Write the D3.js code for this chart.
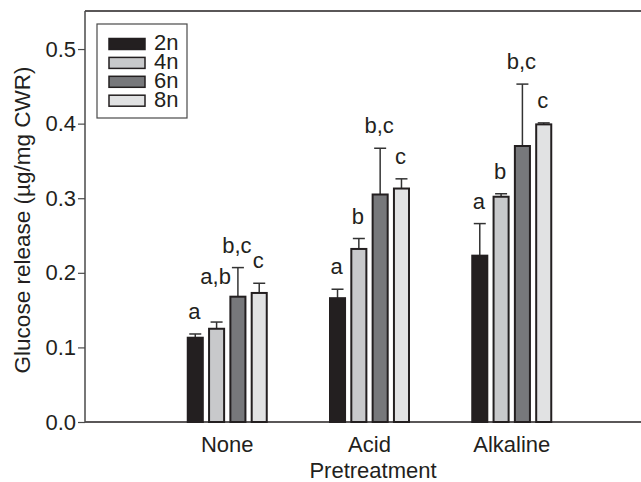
<!DOCTYPE html>
<html>
<head>
<meta charset="utf-8">
<script src="https://cdn.jsdelivr.net/npm/d3@7"></script>
<style>
  body { margin: 0; background: #fff; }
  svg text { font-family: "Liberation Sans", Arial, sans-serif; fill: #231f20; }
</style>
</head>
<body>
<div id="chart"></div>
<script>
// data
var treatments = ["None", "Acid", "Alkaline"];
var ploidy = ["2n", "4n", "6n", "8n"];
var means = {
    "2n": [0.113, 0.166, 0.223],
    "4n": [0.125, 0.232, 0.302],
    "6n": [0.168, 0.305, 0.370],
    "8n": [0.173, 0.313, 0.399]
};
var errors = {
    "2n": [0.005, 0.012, 0.043],
    "4n": [0.009, 0.014, 0.004],
    "6n": [0.039, 0.062, 0.083],
    "8n": [0.013, 0.013, 0.002]
};
var letters = {
    "2n": ["a", "a", "a"],
    "4n": ["a,b", "b", "b"],
    "6n": ["b,c", "b,c", "b,c"],
    "8n": ["c", "c", "c"]
};
var fills = {"2n": "#231f20", "4n": "#c8c9cb", "6n": "#77787b", "8n": "#e1e2e3"};
var yTicks = [0.0, 0.1, 0.2, 0.3, 0.4, 0.5];

var W = 641, H = 482,
    plotLeft = 85, plotTop = 11, plotBottom = 422;

var svg = d3.select("#chart").append("svg")
    .attr("width", W).attr("height", H);

var y = d3.scaleLinear().domain([0, 0.551]).range([plotBottom, plotTop]);
// group centres sit at 1,2,3 on a 0..4 axis that runs past the right edge
var x = d3.scaleLinear().domain([0, 4]).range([plotLeft, 654]);
var xi = d3.scaleBand().domain(ploidy).range([-40.5, 40.5]).paddingInner(0.2);

// frame (top and bottom lines, no right side visible)
svg.append("line").attr("x1", plotLeft).attr("x2", W + 5).attr("y1", plotTop).attr("y2", plotTop)
    .attr("stroke", "#231f20").attr("stroke-width", 1.5);
svg.append("line").attr("x1", plotLeft).attr("x2", W + 5).attr("y1", plotBottom).attr("y2", plotBottom)
    .attr("stroke", "#231f20").attr("stroke-width", 1.5);

// y axis
var yAxis = svg.append("g")
    .attr("transform", "translate(" + plotLeft + ",0)")
    .call(d3.axisLeft(y).tickValues(yTicks).tickFormat(d3.format(".1f")).tickSize(7).tickPadding(2));
yAxis.select(".domain").attr("stroke", "#4a4a4a").attr("stroke-width", 1.5)
    .attr("d", "M0," + plotTop + "V" + plotBottom);
yAxis.selectAll(".tick line").attr("stroke", "#4a4a4a").attr("stroke-width", 1.2);
yAxis.selectAll(".tick text").attr("font-size", 22).attr("fill", "#231f20")
    .style("font-family", "'Liberation Sans', Arial, sans-serif");

// category labels
svg.selectAll(".cat").data(treatments).enter().append("text")
    .attr("class", "cat")
    .attr("x", function(d, i) { return x(i + 1); })
    .attr("y", 452)
    .attr("text-anchor", "middle")
    .attr("font-size", 22)
    .text(function(d) { return d; });

svg.append("text")
    .attr("x", 373).attr("y", 478)
    .attr("text-anchor", "middle").attr("font-size", 22)
    .text("Pretreatment");

svg.append("text")
    .attr("transform", "translate(30,220) rotate(-90)")
    .attr("text-anchor", "middle").attr("font-size", 22.5)
    .text("Glucose release (µg/mg CWR)");

// flatten into bar records
var bars = [];
treatments.forEach(function(t, i) {
    ploidy.forEach(function(p) {
        bars.push({
            t: i, p: p, v: means[p][i], e: errors[p][i], lab: letters[p][i],
            x0: x(i + 1) + xi(p), w: xi.bandwidth()
        });
    });
});

// error bars first, so the bar covers the lower half
var eb = svg.append("g");
bars.forEach(function(d) {
    var cx = d.x0 + d.w / 2;
    eb.append("line").attr("x1", cx).attr("x2", cx)
        .attr("y1", y(d.v)).attr("y2", y(d.v + d.e))
        .attr("stroke", "#333").attr("stroke-width", 1.5);
    eb.append("line").attr("x1", cx - 6).attr("x2", cx + 6)
        .attr("y1", y(d.v + d.e)).attr("y2", y(d.v + d.e))
        .attr("stroke", "#333").attr("stroke-width", 1.5);
});

svg.append("g").selectAll("rect").data(bars).enter().append("rect")
    .attr("x", function(d) { return d.x0 + 1; })
    .attr("y", function(d) { return y(d.v); })
    .attr("width", function(d) { return d.w - 2; })
    .attr("height", function(d) { return y(0) - y(d.v); })
    .attr("fill", function(d) { return fills[d.p]; })
    .attr("stroke", "#231f20").attr("stroke-width", 2);

// significance letters, lifted if they would run into the next bar
var labs = svg.append("g").selectAll("text").data(bars).enter().append("text")
    .attr("x", function(d) { return d.x0 + d.w / 2 - 1; })
    .attr("y", function(d) { return y(d.v + d.e) - 15; })
    .attr("text-anchor", "middle").attr("font-size", 22)
    .text(function(d) { return d.lab; });

labs.each(function(d, k) {
    var el = d3.select(this),
        half = this.getComputedTextLength() / 2,
        cx = d.x0 + d.w / 2,
        base = +el.attr("y");
    bars.forEach(function(o, j) {
        if (j === k || o.t !== d.t) return;
        var oTop = y(o.v);
        if (cx + half > o.x0 + 1 && cx - half < o.x0 + o.w - 1 && base > oTop - 2) {
            base = Math.min(base, oTop - 13);
        }
    });
    el.attr("y", base);
});

// legend
var lg = svg.append("g");
lg.append("rect").attr("x", 97).attr("y", 24).attr("width", 90).attr("height", 94)
    .attr("fill", "#fff").attr("stroke", "#4a4a4a").attr("stroke-width", 1.2);
ploidy.forEach(function(p, i) {
    var base = 50 + i * 18.9;
    lg.append("rect").attr("x", 109).attr("y", base - 11.5).attr("width", 36).attr("height", 11)
        .attr("fill", fills[p]).attr("stroke", "#231f20").attr("stroke-width", 1.5);
    lg.append("text").attr("x", 154).attr("y", base).attr("font-size", 22).text(p);
});
</script>
</body>
</html>
